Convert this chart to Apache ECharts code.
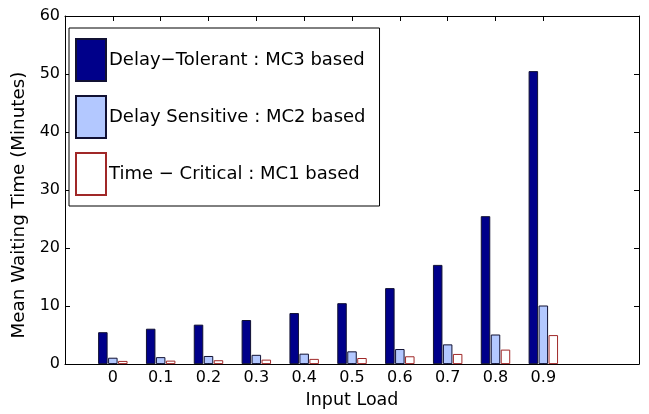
<!DOCTYPE html>
<html>
<head>
<meta charset="utf-8">
<script src="https://cdn.jsdelivr.net/npm/echarts@6/dist/echarts.min.js"></script>
<style>
html,body{margin:0;padding:0;background:#fff;}
#chart{width:649px;height:414px;}
</style>
</head>
<body>
<div id="chart"></div>
<script>
var loads = [0, 0.1, 0.2, 0.3, 0.4, 0.5, 0.6, 0.7, 0.8, 0.9];
var tickLabels = ['0', '0.1', '0.2', '0.3', '0.4', '0.5', '0.6', '0.7', '0.8', '0.9'];
var seriesNames = ['Delay\u2212Tolerant : MC3 based', 'Delay Sensitive : MC2 based', 'Time \u2212 Critical : MC1 based'];
var delayTolerant = [5.5, 6.1, 6.8, 7.6, 8.8, 10.5, 13.1, 17.1, 25.5, 50.5];
var delaySensitive = [1.1, 1.2, 1.4, 1.6, 1.8, 2.2, 2.6, 3.4, 5.1, 10.1];
var timeCritical = [0.55, 0.6, 0.67, 0.77, 0.9, 1.05, 1.35, 1.75, 2.5, 5.0];
var yTicks = [0, 10, 20, 30, 40, 50, 60];

function pairs(vals) { return loads.map(function (x, i) { return [x, vals[i]]; }); }

var FONT = 'DejaVu Sans';
var chart = echarts.init(document.getElementById('chart'), null, {renderer: 'canvas'});
var styles = [
  {color: '#00008a', borderColor: '#111133', borderWidth: 1},
  {color: '#b3c8ff', borderColor: '#111133', borderWidth: 1},
  {color: '#ffffff', borderColor: '#a02828', borderWidth: 1}
];
var datas = [delayTolerant, delaySensitive, timeCritical];

chart.setOption({
  animation: false,
  backgroundColor: '#fff',
  grid: {left: 65, right: 10, top: 16, bottom: 40, containLabel: false},
  legend: {
    orient: 'vertical', left: 69, top: 28,
    itemWidth: 30, itemHeight: 42, itemGap: 13,
    padding: [10, 14, 10, 6],
    borderColor: '#000', borderWidth: 1, backgroundColor: '#fff',
    icon: 'rect',
    textStyle: {fontFamily: FONT, fontSize: 18, color: '#000', padding: [0, 0, 0, -2]},
    data: seriesNames
  },
  xAxis: [{
    type: 'value', min: -0.1, max: 1.1, position: 'bottom',
    name: 'Input Load', nameLocation: 'middle', nameGap: 22,
    nameTextStyle: {fontFamily: FONT, fontSize: 17.5, color: '#000'},
    axisLine: {show: true, onZero: false, lineStyle: {color: '#000', width: 1}},
    axisTick: {show: true, inside: true, length: 5, customValues: loads, lineStyle: {color: '#000'}},
    axisLabel: {show: true, customValues: loads, margin: 6, fontFamily: FONT, fontSize: 16, color: '#000',
      formatter: function (v) { var i = loads.indexOf(Math.round(v * 10) / 10); return i >= 0 ? tickLabels[i] : ''; }},
    splitLine: {show: false}
  }, {
    type: 'value', min: -0.1, max: 1.1, position: 'top',
    axisLine: {show: true, onZero: false, lineStyle: {color: '#000', width: 1}},
    axisTick: {show: true, inside: true, length: 5, customValues: loads, lineStyle: {color: '#000'}},
    axisLabel: {show: false},
    splitLine: {show: false}
  }],
  yAxis: [{
    type: 'value', min: 0, max: 60, interval: 10, position: 'left',
    name: 'Mean Waiting Time (Minutes)', nameLocation: 'middle', nameGap: 32,
    nameTextStyle: {fontFamily: FONT, fontSize: 18.3, color: '#000', padding: [0, 30, 0, 0]},
    axisLine: {show: true, onZero: false, lineStyle: {color: '#000', width: 1}},
    axisTick: {show: true, inside: true, length: 5, lineStyle: {color: '#000'}},
    axisLabel: {margin: 5, fontFamily: FONT, fontSize: 16, color: '#000'},
    splitLine: {show: false}
  }, {
    type: 'value', min: 0, max: 60, interval: 10, position: 'right',
    axisLine: {show: true, onZero: false, lineStyle: {color: '#000', width: 1}},
    axisTick: {show: true, inside: true, length: 5, lineStyle: {color: '#000'}},
    axisLabel: {show: false},
    splitLine: {show: false}
  }],
  series: seriesNames.map(function (n, k) {
    return {
      name: n, type: 'bar', xAxisIndex: 0, yAxisIndex: 0,
      barWidth: 9.5, barGap: '5%',
      itemStyle: styles[k],
      data: pairs(datas[k])
    };
  })
});
</script>
</body>
</html>
